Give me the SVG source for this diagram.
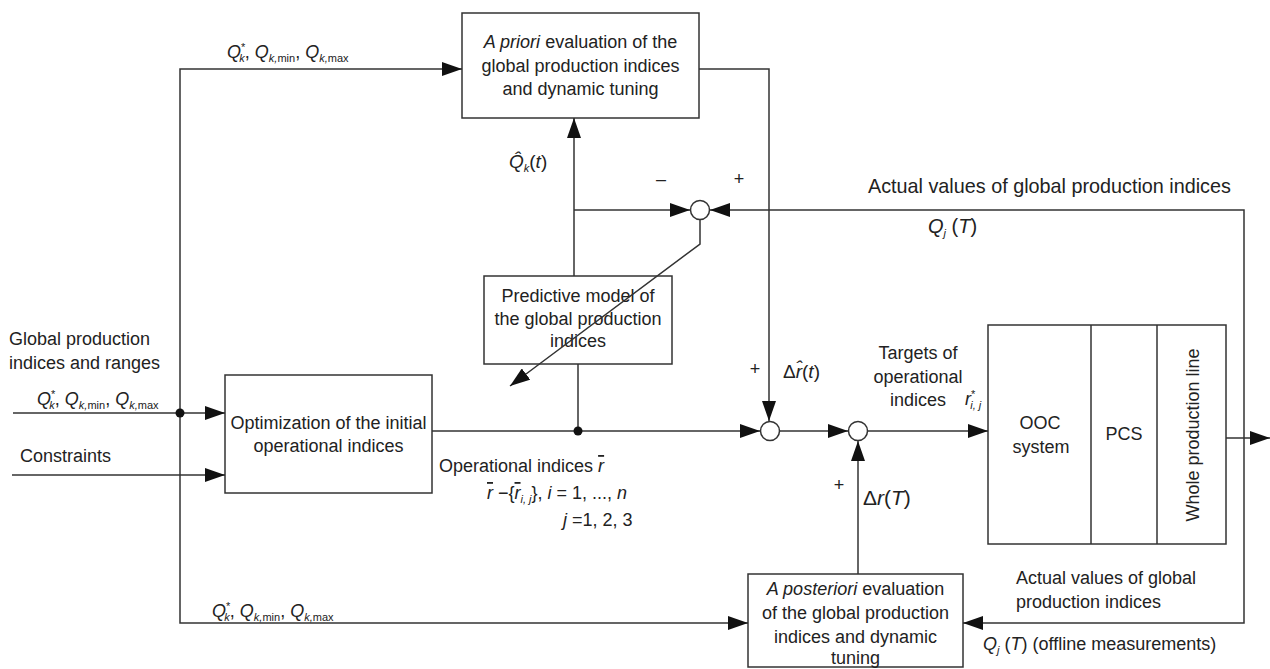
<svg xmlns="http://www.w3.org/2000/svg" width="1270" height="669" viewBox="0 0 1270 669">
<style>
text{font-family:"Liberation Sans",Arial,sans-serif;font-size:18px;fill:#222}
.c{text-anchor:middle}
.i{font-style:italic}
.s{font-size:11px}
.box{fill:none;stroke:#333;stroke-width:1.5}
.ln{fill:none;stroke:#333;stroke-width:1.5}
.ar{marker-end:url(#ah)}
.jn{fill:#fff;stroke:#333;stroke-width:1.5}
.dot{fill:#111}
.ov{text-decoration:overline}
</style>
<defs>
<marker id="ah" markerUnits="userSpaceOnUse" markerWidth="20" markerHeight="14" refX="20" refY="7" orient="auto">
<path d="M0,0 L20,7 L0,14 z" fill="#111"/>
</marker>
</defs>
<rect width="1270" height="669" fill="#fff"/>

<g id="node-apriori">
<rect class="box" x="462" y="13" width="237" height="105"/>
<text class="c" x="580.5" y="48"><tspan class="i">A priori</tspan> evaluation of the</text>
<text class="c" x="580.5" y="72">global production indices</text>
<text class="c" x="580.5" y="95">and dynamic tuning</text>
</g>

<g id="node-predictive">
<rect class="box" x="484" y="276" width="188" height="88"/>
<text class="c" x="578" y="302">Predictive model of</text>
<text class="c" x="578" y="325">the global production</text>
<text class="c" x="578" y="347">indices</text>
</g>

<g id="node-optimization">
<rect class="box" x="225" y="375" width="207" height="118"/>
<text class="c" x="328.5" y="429">Optimization of the initial</text>
<text class="c" x="328.5" y="452">operational indices</text>
</g>

<g id="node-plant">
<rect class="box" x="988" y="325" width="238" height="219"/>
<line class="ln" x1="1091" y1="325" x2="1091" y2="544"/>
<line class="ln" x1="1157" y1="325" x2="1157" y2="544"/>
<text class="c" x="1040" y="429">OOC</text>
<text class="c" x="1041" y="453">system</text>
<text class="c" x="1124" y="440">PCS</text>
<text class="c" transform="translate(1199,435) rotate(-90)" x="0" y="0">Whole production line</text>
</g>

<g id="node-aposteriori">
<rect class="box" x="748" y="574" width="215" height="93"/>
<text class="c" x="855.5" y="595"><tspan class="i">A posteriori</tspan> evaluation</text>
<text class="c" x="855.5" y="619">of the global production</text>
<text class="c" x="855.5" y="643">indices and dynamic</text>
<text class="c" x="855.5" y="664">tuning</text>
</g>

<g id="connectors">
<path class="ln ar" d="M180,413 L180,69 L462,69"/>
<path class="ln ar" d="M180,413 L180,623 L748,623"/>
<path class="ln ar" d="M13,413 L225,413"/>
<path class="ln ar" d="M12,475 L225,475"/>
<path class="ln ar" d="M432,431 L760,431"/>
<path class="ln" d="M578,364 L578,431"/>
<path class="ln ar" d="M574,276 L574,118"/>
<path class="ln ar" d="M574,210 L690,210"/>
<path class="ln ar" d="M1244,420 L1244,210 L710,210"/>
<path class="ln ar" d="M1244,420 L1244,623 L963,623"/>
<path class="ln ar" d="M699,69 L769,69 L769,421"/>
<path class="ln ar" d="M700,220 L700,244 L510,386"/>
<path class="ln ar" d="M780,431 L848,431"/>
<path class="ln ar" d="M868,431 L988,431"/>
<path class="ln ar" d="M858,574 L858,441"/>
<path class="ln ar" d="M1226,438 L1270,438"/>
<circle class="dot" cx="180" cy="413" r="4.5"/>
<circle class="dot" cx="578" cy="431" r="4.5"/>
</g>

<g id="node-sum-top">
<circle class="jn" cx="700" cy="210" r="9.5"/>
<text class="c" x="661" y="185">–</text>
<text class="c" x="739" y="185">+</text>
</g>

<g id="node-sum1">
<circle class="jn" cx="770" cy="431" r="9.5"/>
<text class="c" x="755" y="375">+</text>
</g>

<g id="node-sum2">
<circle class="jn" cx="858" cy="431" r="9.5"/>
<text class="c" x="839" y="491">+</text>
</g>

<g id="labels">
<text x="227" y="58"><tspan class="i">Q</tspan><tspan class="s" dy="-7">*</tspan><tspan class="s i" dx="-6" dy="11">k</tspan><tspan dy="-4">, </tspan><tspan class="i">Q</tspan><tspan class="s i" dy="4">k,</tspan><tspan class="s">min</tspan><tspan dy="-4">, </tspan><tspan class="i">Q</tspan><tspan class="s i" dy="4">k,</tspan><tspan class="s">max</tspan></text>
<text x="37" y="405"><tspan class="i">Q</tspan><tspan class="s" dy="-7">*</tspan><tspan class="s i" dx="-6" dy="11">k</tspan><tspan dy="-4">, </tspan><tspan class="i">Q</tspan><tspan class="s i" dy="4">k,</tspan><tspan class="s">min</tspan><tspan dy="-4">, </tspan><tspan class="i">Q</tspan><tspan class="s i" dy="4">k,</tspan><tspan class="s">max</tspan></text>
<text x="212" y="617"><tspan class="i">Q</tspan><tspan class="s" dy="-7">*</tspan><tspan class="s i" dx="-6" dy="11">k</tspan><tspan dy="-4">, </tspan><tspan class="i">Q</tspan><tspan class="s i" dy="4">k,</tspan><tspan class="s">min</tspan><tspan dy="-4">, </tspan><tspan class="i">Q</tspan><tspan class="s i" dy="4">k,</tspan><tspan class="s">max</tspan></text>
<text x="9" y="345">Global production</text>
<text x="9" y="369">indices and ranges</text>
<text x="20" y="462">Constraints</text>
<text x="509" y="168" style="font-size:19px"><tspan class="i">Q̂</tspan><tspan class="s i" dy="4">k</tspan><tspan dy="-4">(</tspan><tspan class="i">t</tspan>)</text>
<text x="868" y="193" style="font-size:19.8px">Actual values of global production indices</text>
<text x="928" y="233" style="font-size:20px"><tspan class="i">Q</tspan><tspan class="s i" dy="4">j</tspan><tspan dy="-4"> (</tspan><tspan class="i">T</tspan>)</text>
<text x="439" y="472">Operational indices <tspan class="i ov">r</tspan></text>
<text x="487" y="499"><tspan class="i ov">r</tspan> −{<tspan class="i ov">r</tspan><tspan class="s i" dy="4">i, j</tspan><tspan dy="-4">}, </tspan><tspan class="i">i</tspan> = 1, ..., <tspan class="i">n</tspan></text>
<text x="563" y="526"><tspan class="i">j</tspan> =1, 2, 3</text>
<text x="783" y="378" style="font-size:19px">Δ<tspan class="i">r̂</tspan>(<tspan class="i">t</tspan>)</text>
<text class="c" x="918" y="359">Targets of</text>
<text class="c" x="918" y="383">operational</text>
<text class="c" x="918" y="406">indices</text>
<text x="965" y="405"><tspan class="i">r</tspan><tspan class="s" dy="-7">*</tspan><tspan class="s i" dx="-5" dy="11">i, j</tspan></text>
<text x="863" y="505" style="font-size:21px">Δ<tspan class="i">r</tspan>(<tspan class="i">T</tspan>)</text>
<text x="1016" y="584">Actual values of global</text>
<text x="1016" y="608">production indices</text>
<text x="983" y="650"><tspan class="i">Q</tspan><tspan class="s i" dy="4">j</tspan><tspan dy="-4"> (</tspan><tspan class="i">T</tspan>) (offline measurements)</text>
</g>
</svg>
